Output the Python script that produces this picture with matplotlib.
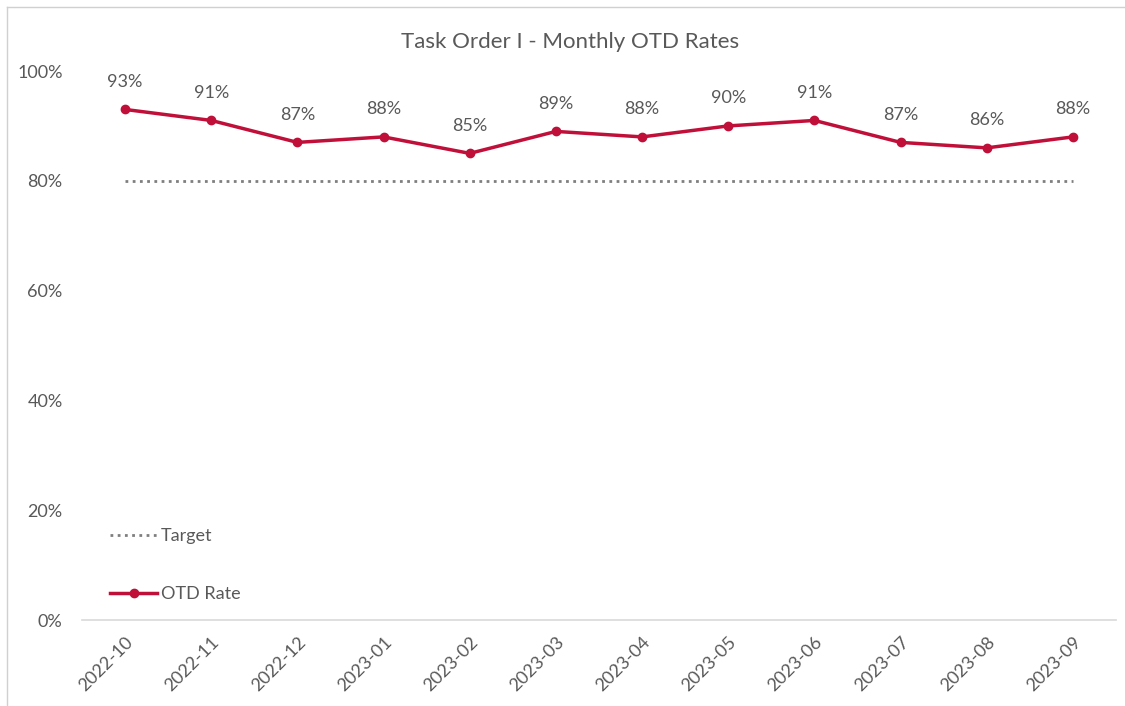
import matplotlib.pyplot as plt
from matplotlib.lines import Line2D

months = ["2022-10", "2022-11", "2022-12", "2023-01", "2023-02", "2023-03",
          "2023-04", "2023-05", "2023-06", "2023-07", "2023-08", "2023-09"]
otd_rate = [0.93, 0.91, 0.87, 0.88, 0.85, 0.89, 0.88, 0.90, 0.91, 0.87, 0.86, 0.88]
target = [0.80] * len(months)
y_ticks = [0, 0.2, 0.4, 0.6, 0.8, 1.0]

plt.rcParams['font.family'] = ['Lato', 'DejaVu Sans']
gray = "#595959"
red = "#C0103A"

fig = plt.figure(figsize=[11.25, 7.06], dpi=100)
ax = fig.add_axes([0.0729, 0.1218, 0.9191, 0.7776])

x = list(range(len(months)))
ax.plot(x, target, linestyle=(0, (1, 1.6)), color="#7F7F7F", linewidth=2.0, label="Target")
ax.plot(x, otd_rate, color=red, linewidth=2.5, marker="o", markersize=6, label="OTD Rate")

for xi, v in zip(x, otd_rate):
    ax.annotate(f"{round(v * 100)}%", (xi, v), xytext=(0, 14), textcoords="offset points",
                ha="center", va="bottom", fontsize=13, color=gray)

ax.set_xlim(-0.5, len(months) - 0.5)
ax.set_ylim(0, 1.0)
ax.set_yticks(y_ticks)
ax.set_yticklabels([f"{int(t * 100)}%" for t in y_ticks])
ax.set_xticks(x)
ax.set_xticklabels(months, rotation=45, ha="right", rotation_mode="anchor")
ax.tick_params(axis="both", length=0, labelsize=13, labelcolor=gray)
ax.tick_params(axis="x", pad=10)
ax.tick_params(axis="y", pad=14)
for s in ["top", "right", "left"]:
    ax.spines[s].set_visible(False)
ax.spines["bottom"].set_color("#D9D9D9")
ax.spines["bottom"].set_linewidth(1.2)

fig.text(570 / 1125, 1 - 42 / 706, "Task Order I - Monthly OTD Rates", fontsize=16,
         color=gray, ha="center", va="center")

leg = ax.legend(loc="lower left", bbox_to_anchor=(0.0104, 0.0), frameon=False,
                labelspacing=2.32, handlelength=2.6, handletextpad=0.2, fontsize=13,
                borderaxespad=0.58)
for t in leg.get_texts():
    t.set_color(gray)

# outer frame: only top and left edges are visible in the original
fig.add_artist(Line2D([7 / 1125, 1], [1 - 7 / 706, 1 - 7 / 706], transform=fig.transFigure,
                      color="#D0D0D0", linewidth=1))
fig.add_artist(Line2D([7 / 1125, 7 / 1125], [0, 1 - 7 / 706], transform=fig.transFigure,
                      color="#D0D0D0", linewidth=1))

fig.savefig("out.png", dpi=100)
